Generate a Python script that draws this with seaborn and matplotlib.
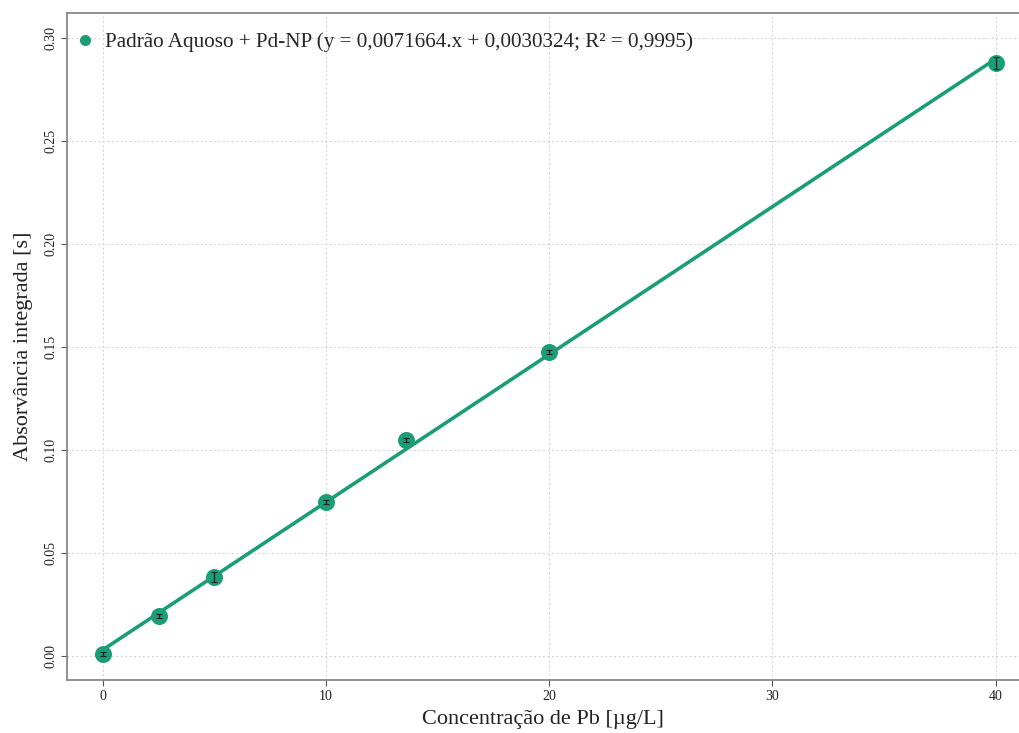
import matplotlib
matplotlib.use("Agg")
import matplotlib.pyplot as plt
from matplotlib.lines import Line2D
import seaborn as sns
import pandas as pd
import numpy as np

conc = [0.0, 2.5, 5.0, 10.0, 13.6, 20.0, 40.0]
absorb = [0.0010, 0.0195, 0.0383, 0.0748, 0.1048, 0.1475, 0.2878]
err = [0.0010, 0.0010, 0.0022, 0.0010, 0.0010, 0.0010, 0.0030]
legend_label = "Padrão Aquoso + Pd-NP (y = 0,0071664.x + 0,0030324; R² = 0,9995)"
x_ticks = [0, 10, 20, 30, 40]
y_ticks = [0.00, 0.05, 0.10, 0.15, 0.20, 0.25, 0.30]

sns.set_theme(style="whitegrid")
plt.rcParams['font.family'] = ['Liberation Serif', 'DejaVu Serif']

color = "#1b9e77"
df = pd.DataFrame({"conc": conc, "abs": absorb})

fig = plt.figure(figsize=(10.19, 7.33), dpi=100)
ax = fig.add_axes([0.0658, 0.0723, 0.9342, 0.91])

sns.regplot(data=df, x="conc", y="abs", ax=ax, ci=None, color=color,
            scatter_kws=dict(s=150, alpha=1, linewidths=0, zorder=3),
            line_kws=dict(lw=2.6, zorder=2))
ax.errorbar(conc, absorb, yerr=err, fmt='none', ecolor='#222222', elinewidth=1.0,
            capsize=2.5, capthick=0.8, zorder=4)

ax.set_xlim(-1.6, 41.05)
ax.set_ylim(-0.0117, 0.3121)
ax.set_xticks(x_ticks)
ax.set_yticks(y_ticks)
ax.set_xticklabels([str(t) for t in x_ticks], fontsize=10)
ax.set_yticklabels([f"{t:.2f}" for t in y_ticks], fontsize=10, rotation=90, va='center')

ax.grid(True, color='#cccccc', linestyle=(0, (1.5, 2.5)), linewidth=0.8)
for s in ['left', 'bottom', 'top']:
    ax.spines[s].set_visible(True)
    ax.spines[s].set_color('#888888')
    ax.spines[s].set_linewidth(1.3)
ax.spines['right'].set_visible(False)
ax.tick_params(axis='both', which='both', length=4, width=0.8, color='#555555',
               direction='out', bottom=True, left=True, pad=3, labelcolor='#222222')

ax.set_xlabel("Concentração de Pb [µg/L]", fontsize=16, color='#222222', labelpad=5)
ax.set_ylabel("Absorvância integrada [s]", fontsize=16, color='#222222', labelpad=8)

handle = Line2D([], [], marker='o', linestyle='none', color=color, markersize=7)
ax.legend([handle], [legend_label], loc='upper left', bbox_to_anchor=(0.0, 0.985),
          frameon=False, fontsize=15.2,
          handlelength=0.8, handletextpad=0.55, borderaxespad=0.0, borderpad=0.45)

fig.savefig("out.png", dpi=100)
